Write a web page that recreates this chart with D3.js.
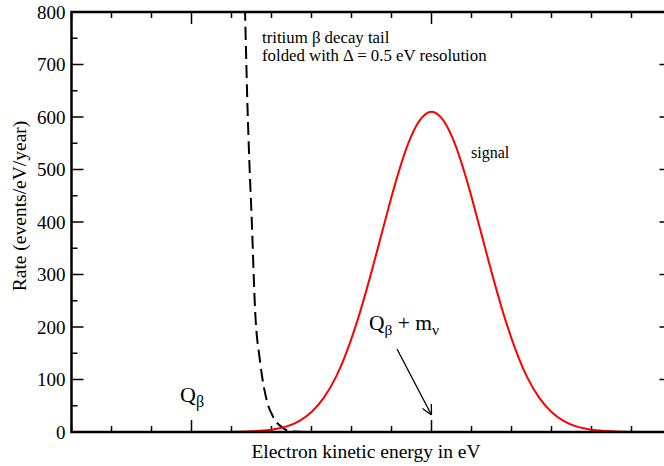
<!DOCTYPE html>
<html>
<head>
<meta charset="utf-8">
<script src="https://cdn.jsdelivr.net/npm/d3@7"></script>
<style>
	body { margin: 0; background: #fff; }
	text { font-family: "Liberation Serif", "Times New Roman", serif; fill: #000; }
</style>
</head>
<body>
<div id="chart-container"></div>
<script>
// signal (Gaussian-shaped peak around Q_beta + m_nu), energy in eV relative to Q_beta
const signalEnergy = [-0.5, 0.1, 0.2, 0.25, 0.3, 0.35, 0.4, 0.45, 0.5, 0.55, 0.6, 0.65, 0.7, 0.75, 0.8, 0.85, 0.9, 0.95, 1.0,
	1.05, 1.1, 1.15, 1.2, 1.25, 1.3, 1.35, 1.4, 1.45, 1.5, 1.55, 1.6, 1.65, 1.7, 1.75, 1.8, 1.9, 2.0];
const signalRate = [0, 0, 0.5, 1.2, 2.7, 5.6, 11.2, 21.3, 38, 64.5, 103, 157, 225, 305, 391, 475, 546, 593, 610,
	593, 546, 475, 391, 305, 225, 157, 103, 64.5, 38, 21.3, 11.2, 5.6, 2.7, 1.2, 0.5, 0, 0];

// tritium tail (dashed)
const tailEnergy = [0.218, 0.223, 0.2325, 0.2408, 0.251, 0.265, 0.285, 0.313, 0.34, 0.381, 0.42, 0.5, 1.0];
const tailRate = [880, 800, 632, 518, 404, 232, 137, 61, 29, 7.6, 1, 0, 0];

const yTicks = [0, 100, 200, 300, 400, 500, 600, 700, 800];

const width = 664;
const height = 466;
const margin = { top: 12, right: -7.5, bottom: 34, left: 71.5 };

const svg = d3.select("#chart-container")
	.append("svg")
	.attr("width", width)
	.attr("height", height);

const x = d3.scaleLinear()
	.domain([-0.5, 2.0])
	.range([margin.left, width - margin.right]);

const y = d3.scaleLinear()
	.domain([0, 800])
	.range([height - margin.bottom, margin.top]);

const x0 = x.range()[0], x1 = x.range()[1];
const y0 = y.range()[0], y1 = y.range()[1];

svg.append("defs").append("clipPath").attr("id", "clip")
	.append("rect")
	.attr("x", x0).attr("y", y1)
	.attr("width", x1 - x0).attr("height", y0 - y1);

svg.select("defs").append("marker")
	.attr("id", "arrow")
	.attr("viewBox", "0 0 10 10")
	.attr("refX", 10).attr("refY", 5)
	.attr("markerWidth", 10).attr("markerHeight", 10)
	.attr("markerUnits", "userSpaceOnUse")
	.attr("orient", "auto")
	.append("path")
	.attr("d", "M0,0 L10,5 L0,10")
	.attr("fill", "none")
	.attr("stroke", "#000")
	.attr("stroke-width", 1.3);

// ticks (x minor every 1/6 eV, major at Q_beta and Q_beta + m_nu)
const xMinor = d3.range(-3, 13).map(i => i / 6);
const xMajor = [0, 1];
const yMinor = d3.range(0, 801, 50);

const tickG = svg.append("g").attr("stroke", "#000").attr("stroke-width", 1.5);
xMinor.forEach(v => {
	const len = xMajor.some(m => Math.abs(m - v) < 1e-6) ? 12 : 6;
	tickG.append("line").attr("x1", x(v)).attr("x2", x(v)).attr("y1", y0).attr("y2", y0 - len);
	tickG.append("line").attr("x1", x(v)).attr("x2", x(v)).attr("y1", y1).attr("y2", y1 + len);
});
yMinor.forEach(v => {
	const len = v % 100 === 0 ? 12 : 6;
	tickG.append("line").attr("x1", x0).attr("x2", x0 + len).attr("y1", y(v)).attr("y2", y(v));
	tickG.append("line").attr("x1", x1).attr("x2", x1 - len).attr("y1", y(v)).attr("y2", y(v));
});

// curves
const signalData = signalEnergy.map((e, i) => [e, signalRate[i]]);
const tailData = tailEnergy.map((e, i) => [e, tailRate[i]]);

const line = d3.line()
	.x(d => x(d[0]))
	.y(d => y(d[1]))
	.curve(d3.curveMonotoneX);

svg.append("path")
	.datum(tailData)
	.attr("clip-path", "url(#clip)")
	.attr("fill", "none")
	.attr("stroke", "#000")
	.attr("stroke-width", 2)
	.attr("stroke-dasharray", "13,6")
	.attr("d", line);

svg.append("path")
	.datum(signalData)
	.attr("clip-path", "url(#clip)")
	.attr("fill", "none")
	.attr("stroke", "#ff0000")
	.attr("stroke-width", 2)
	.attr("d", line);

// frame
svg.append("path")
	.attr("d", `M${x1},${y1} L${x0},${y1} L${x0},${y0} L${x1},${y0} Z`)
	.attr("fill", "none")
	.attr("stroke", "#000")
	.attr("stroke-width", 2.5);

// y tick labels
svg.append("g")
	.selectAll("text")
	.data(yTicks)
	.join("text")
	.attr("x", x0 - 6)
	.attr("y", d => y(d))
	.attr("dy", "0.35em")
	.attr("text-anchor", "end")
	.attr("font-size", 19)
	.text(d => d);

// axis labels
svg.append("text")
	.attr("x", 366)
	.attr("y", 458)
	.attr("text-anchor", "middle")
	.attr("font-size", 19.5)
	.text("Electron kinetic energy in eV");

svg.append("text")
	.attr("transform", `translate(26,${206}) rotate(-90)`)
	.attr("text-anchor", "middle")
	.attr("font-size", 19.5)
	.text("Rate (events/eV/year)");

// annotations
svg.append("text").attr("x", 262).attr("y", 43).attr("font-size", 16.8)
	.text("tritium \u03B2 decay tail");
svg.append("text").attr("x", 262).attr("y", 61).attr("font-size", 16.8)
	.text("folded with \u0394 = 0.5 eV resolution");
svg.append("text").attr("x", 471).attr("y", 158).attr("font-size", 16)
	.text("signal");

const qb = svg.append("text").attr("x", 180).attr("y", 402).attr("font-size", 22);
qb.append("tspan").text("Q");
qb.append("tspan").attr("font-size", 16).attr("dy", 5).text("\u03B2");

const qm = svg.append("text").attr("x", 369).attr("y", 330).attr("font-size", 21.5);
qm.append("tspan").text("Q");
qm.append("tspan").attr("font-size", 15.5).attr("dy", 5).text("\u03B2");
qm.append("tspan").attr("dy", -5).text(" + m");
qm.append("tspan").attr("font-size", 15.5).attr("dy", 5).text("\u03BD");

svg.append("line")
	.attr("x1", 397).attr("y1", 349)
	.attr("x2", x(1)).attr("y2", 415)
	.attr("stroke", "#000")
	.attr("stroke-width", 1.3)
	.attr("marker-end", "url(#arrow)");
</script>
</body>
</html>
